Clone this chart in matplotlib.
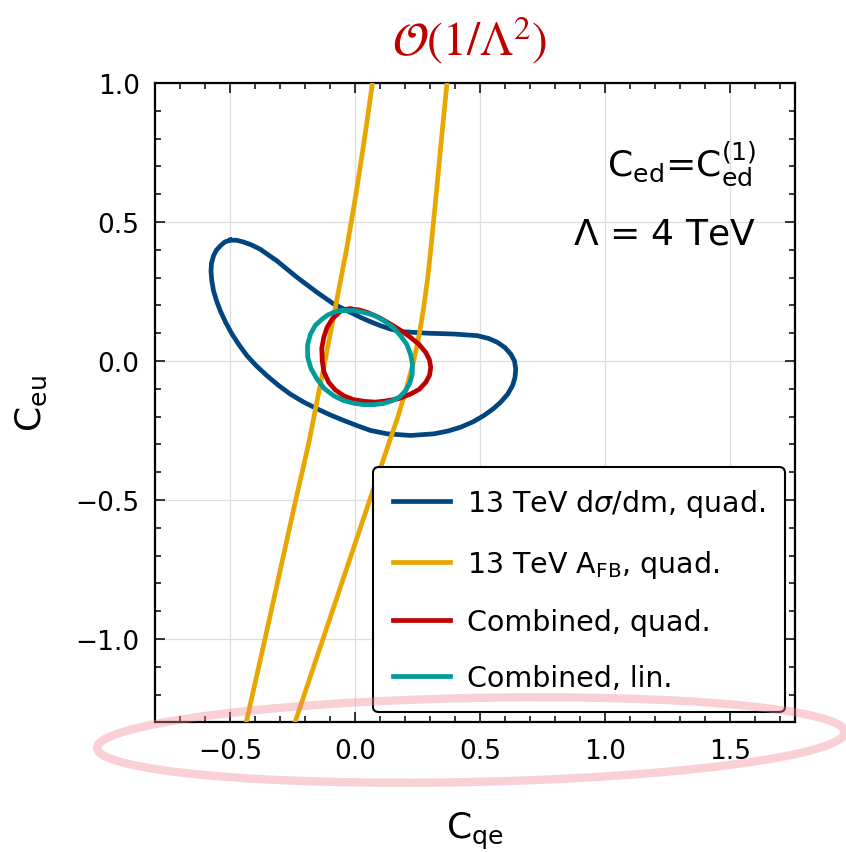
import numpy as np
import matplotlib.pyplot as plt
from matplotlib.patches import Ellipse

plt.rcParams['font.family'] = 'DejaVu Sans'
plt.rcParams['mathtext.fontset'] = 'dejavusans'

blue = '#00457f'
orange = '#e8a600'
red = '#c00000'
teal = '#009b9b'

# 13 TeV dsigma/dm, quad. (closed contour)
dsig_x = [-0.499, -0.521, -0.539, -0.555, -0.566, -0.574, -0.576, -0.573, -0.566, -0.554,
          -0.539, -0.518, -0.492, -0.463, -0.432, -0.394, -0.352, -0.307, -0.259, -0.207,
          -0.152, -0.099, -0.045, 0.010, 0.062, 0.129, 0.222, 0.316, 0.372, 0.423,
          0.472, 0.516, 0.553, 0.583, 0.611, 0.630, 0.640, 0.643, 0.638, 0.623,
          0.600, 0.570, 0.535, 0.490, 0.396, 0.289, 0.196, 0.145, 0.102, 0.060,
          0.022, -0.018, -0.085, -0.152, -0.232, -0.312, -0.379, -0.415, -0.446, -0.472]
dsig_y = [0.435, 0.428, 0.414, 0.398, 0.378, 0.352, 0.324, 0.290, 0.253, 0.217,
          0.181, 0.140, 0.097, 0.057, 0.019, -0.018, -0.053, -0.087, -0.119, -0.147,
          -0.172, -0.194, -0.214, -0.233, -0.250, -0.262, -0.268, -0.262, -0.252, -0.238,
          -0.219, -0.196, -0.172, -0.148, -0.119, -0.089, -0.060, -0.029, 0.000, 0.025,
          0.048, 0.067, 0.081, 0.091, 0.097, 0.100, 0.105, 0.114, 0.127, 0.142,
          0.157, 0.175, 0.205, 0.247, 0.301, 0.360, 0.402, 0.418, 0.428, 0.434]

# 13 TeV A_FB, quad. (two open branches)
afb_left_x = [-0.435, -0.360, -0.237, -0.186, -0.120, -0.077, -0.034, 0.004, 0.038, 0.070]
afb_left_y = [-1.300, -1.000, -0.500, -0.300, 0.000, 0.200, 0.400, 0.600, 0.800, 1.000]
afb_right_x = [-0.240, -0.128, 0.059, 0.134, 0.172, 0.205, 0.235, 0.258, 0.276, 0.291,
               0.303, 0.325, 0.346, 0.368]
afb_right_y = [-1.300, -1.000, -0.500, -0.300, -0.200, -0.100, 0.000, 0.100, 0.200, 0.300,
               0.400, 0.600, 0.800, 1.000]

# Combined, quad.
comb_quad_x = [-0.018, 0.016, 0.049, 0.097, 0.142, 0.183, 0.222, 0.256, 0.283, 0.298,
               0.303, 0.298, 0.283, 0.257, 0.222, 0.177, 0.129, 0.082, 0.035, -0.006,
               -0.045, -0.079, -0.105, -0.124, -0.131, -0.133, -0.125, -0.111, -0.091, -0.058,
               -0.038]
comb_quad_y = [0.187, 0.184, 0.175, 0.156, 0.133, 0.110, 0.085, 0.060, 0.031, 0.004,
               -0.023, -0.052, -0.077, -0.102, -0.119, -0.135, -0.143, -0.148, -0.145, -0.139,
               -0.125, -0.104, -0.077, -0.040, 0.001, 0.045, 0.085, 0.122, 0.151, 0.179,
               0.186]

# Combined, lin.
comb_lin_x = [-0.045, -0.005, 0.035, 0.079, 0.115, 0.153, 0.182, 0.207, 0.222, 0.230,
              0.229, 0.219, 0.202, 0.179, 0.149, 0.113, 0.075, 0.035, -0.005, -0.047,
              -0.085, -0.123, -0.152, -0.176, -0.189, -0.190, -0.178, -0.159, -0.131, -0.108,
              -0.085, -0.065]
comb_lin_y = [0.181, 0.182, 0.175, 0.164, 0.145, 0.121, 0.091, 0.060, 0.025, -0.011,
              -0.047, -0.080, -0.107, -0.129, -0.143, -0.153, -0.157, -0.157, -0.152, -0.142,
              -0.125, -0.099, -0.065, -0.027, 0.013, 0.057, 0.097, 0.128, 0.151, 0.166,
              0.175, 0.180]


def closed(xs, ys):
    return list(xs) + [xs[0]], list(ys) + [ys[0]]


fig = plt.figure(figsize=(8.46, 8.53), dpi=100)
ax = fig.add_axes([0.1832, 0.152, 0.7565, 0.7495])

ax.grid(True, color='#dddddd', lw=0.9, zorder=0)
ax.set_axisbelow(True)

lw = 3.4
x, y = closed(dsig_x, dsig_y)
ax.plot(x, y, color=blue, lw=lw, label=r'13 TeV d$\sigma$/dm, quad.', zorder=2)
ax.plot(afb_left_x, afb_left_y, color=orange, lw=lw, label=r'13 TeV A$_{\mathrm{FB}}$, quad.', zorder=3)
ax.plot(afb_right_x, afb_right_y, color=orange, lw=lw, zorder=3)
x, y = closed(comb_quad_x, comb_quad_y)
ax.plot(x, y, color=red, lw=lw, label='Combined, quad.', zorder=4)
x, y = closed(comb_lin_x, comb_lin_y)
ax.plot(x, y, color=teal, lw=lw, label='Combined, lin.', zorder=5)

ax.set_xlim(-0.8, 1.76)
ax.set_ylim(-1.3, 1.0)
ax.set_xticks([-0.5, 0.0, 0.5, 1.0, 1.5])
ax.set_yticks([-1.0, -0.5, 0.0, 0.5, 1.0])
ax.set_xticks(np.arange(-0.8, 1.76, 0.1), minor=True)
ax.set_yticks(np.arange(-1.3, 1.01, 0.1), minor=True)
ax.tick_params(which='both', direction='in', top=True, right=True, width=1.1)
ax.tick_params(which='major', length=7, labelsize=19, pad=11)
ax.tick_params(which='minor', length=4.3)
for s in ax.spines.values():
    s.set_linewidth(1.6)

ax.set_xlabel(r'C$_{\mathrm{qe}}$', fontsize=26, labelpad=33)
ax.set_ylabel(r'C$_{\mathrm{eu}}$', fontsize=26, labelpad=19)

ax.text(0.94, 0.875, r'C$_{\mathrm{ed}}$=C$_{\mathrm{ed}}^{(1)}$', transform=ax.transAxes,
        fontsize=26, ha='right', va='center')
ax.text(0.94, 0.765, r'$\Lambda$ = 4 TeV', transform=ax.transAxes,
        fontsize=26, ha='right', va='center')

leg = ax.legend(loc='lower right', fontsize=20.5, frameon=True, fancybox=True,
                edgecolor='black', framealpha=1.0, labelspacing=1.0,
                handlelength=2.0, handletextpad=0.6, borderaxespad=0.35,
                borderpad=0.7)
leg.get_frame().set_linewidth(1.5)
for h in leg.get_lines():
    h.set_linewidth(lw)

fig.text(0.555, 1 - 40 / 853, r'$\mathcal{O}(1/\Lambda^2)$', color=red, fontsize=34,
         ha='center', va='center', math_fontfamily='stix')

# hand-drawn highlight around the x tick labels
fig.patches.append(Ellipse((471 / 846, 1 - 741 / 853), 748 / 846, 84 / 853, angle=1.2,
                           transform=fig.transFigure, fill=False, edgecolor='#f08a96',
                           lw=6, alpha=0.4, zorder=10))

fig.savefig('out.png', dpi=100)
